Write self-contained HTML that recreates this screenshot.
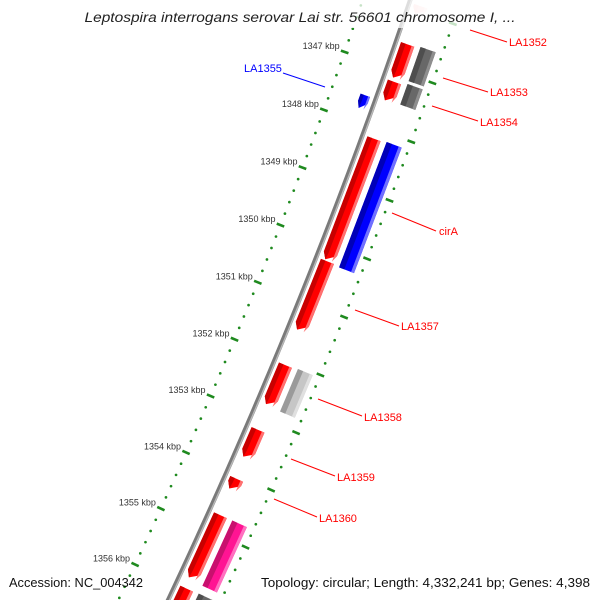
<!DOCTYPE html>
<html><head><meta charset="utf-8">
<style>
html,body{margin:0;padding:0;background:#fff;width:600px;height:600px;overflow:hidden;}
svg{display:block;font-family:"Liberation Sans",sans-serif;overflow:hidden;}
</style></head>
<body>
<svg id="map" width="600" height="600" viewBox="0 0 600 600" xmlns="http://www.w3.org/2000/svg">
<rect width="600" height="600" fill="#fff"/>
<g id="layer"></g>
<rect x="0" y="0" width="600" height="28" fill="#fff" opacity="0.75"/>
<text x="300" y="22" text-anchor="middle" font-size="14" font-style="italic" fill="#222" textLength="431" lengthAdjust="spacingAndGlyphs">Leptospira interrogans serovar Lai str. 56601 chromosome I, ...</text>
<text x="9" y="587" font-size="12.5" fill="#111" textLength="134" lengthAdjust="spacingAndGlyphs">Accession: NC_004342</text>
<text x="261" y="587" font-size="12.5" fill="#111" textLength="329" lengthAdjust="spacingAndGlyphs">Topology: circular; Length: 4,332,241 bp; Genes: 4,398</text>
</svg>
<script>
// ---- data ----
const tickKbp = [1346, 1347, 1348, 1349, 1350, 1351, 1352, 1353, 1354, 1355, 1356, 1357];
const tickLabels = ["1346 kbp","1347 kbp","1348 kbp","1349 kbp","1350 kbp","1351 kbp","1352 kbp","1353 kbp","1354 kbp","1355 kbp","1356 kbp","1357 kbp"];
// forward-strand CDS (row 1)
const fwdStart = [1345.90, 1346.55, 1347.19, 1348.16, 1350.27, 1352.07, 1353.20, 1354.06, 1354.70, 1356.00];
const fwdEnd   = [1346.05, 1347.13, 1347.52, 1350.25, 1351.47, 1352.77, 1353.69, 1354.25, 1355.82, 1356.40];
const fwdKind  = ["faint","red","red","red","red","red","red","red","red","red"];
// other features (row 2)
const row2Start = [1346.52, 1347.15, 1348.14, 1352.05, 1354.70, 1355.99];
const row2End   = [1347.10, 1347.50, 1350.29, 1352.79, 1355.85, 1356.40];
const row2Kind  = ["gray","gray","blue","lightgray","pink","gray"];
// reverse strand
const revStart = [1347.55];
const revEnd   = [1347.78];
const revKind  = ["blue"];
// labels
const labelText = ["LA1352","LA1355","LA1353","LA1354","cirA","LA1357","LA1358","LA1359","LA1360"];
const labelColor = ["red","blue","red","red","red","red","red","red","red"];

// ---- geometry (circular map axis) ----
const CX = -4927, CY = -1804.5, R = 5634;
const A0 = 19.40, DA = 0.631;
function ang(p){ return (A0 + (p - 1347) * DA) * Math.PI / 180; }
function pt(p, off){ const a = ang(p); return [CX + (R + off) * Math.cos(a), CY + (R + off) * Math.sin(a)]; }
const NS = "http://www.w3.org/2000/svg";
const layer = document.getElementById('layer');
function mk(tag, attrs){ const e = document.createElementNS(NS, tag); for (const k in attrs) e.setAttribute(k, attrs[k]); layer.appendChild(e); return e; }
function poly(points){ return points.map(q => q[0].toFixed(2) + ',' + q[1].toFixed(2)).join(' '); }

const palette = {
  red: ["#c80000", "#ff0000", "#ff7070"],
  faint: ["#ffd8d8", "#ffdede", "#ffecec"],
  gray: ["#4e4e4e", "#686868", "#8e8e8e"],
  blue: ["#0000b8", "#0000ff", "#7070ff"],
  lightgray: ["#9a9a9a", "#c6c6c6", "#e0e0e0"],
  pink: ["#c8106e", "#ff1493", "#ff70c0"]
};

// backbone
(function(){
  const pts = [];
  for (let p = 1345.6; p <= 1356.8; p += 0.1) pts.push(pt(p, 0));
  const d = 'M' + pts.map(q => q[0].toFixed(2) + ' ' + q[1].toFixed(2)).join(' L');
  let e = mk('path', {d: d, fill: 'none', stroke: '#7a7a7a', 'stroke-width': 4.5});
  
  
  const pts2 = [];
  for (let p = 1345.6; p <= 1356.8; p += 0.1) pts2.push(pt(p, 1.3));
  const d2 = 'M' + pts2.map(q => q[0].toFixed(2) + ' ' + q[1].toFixed(2)).join(' L');
  e = mk('path', {d: d2, fill: 'none', stroke: '#b8b8b8', 'stroke-width': 1.4});
  
  
})();

// rulers
const rulerOffsets = [-45, 48];
rulerOffsets.forEach((off, ri) => {
  for (let i = 0; i < tickKbp.length - 1; i++) {
    for (let j = 1; j < 5; j++) {
      const p = tickKbp[i] + j * (tickKbp[i + 1] - tickKbp[i]) / 5;
      const q = pt(p, off);
      if (q[1] < -5 || q[1] > 605) continue;
      const c = mk('circle', {cx: q[0], cy: q[1], r: 1.35, fill: '#1f8a1f'});
      
      
    }
  }
  tickKbp.forEach((k, i) => {
    const q = pt(k, off);
    if (q[1] < -5 || q[1] > 605) return;
    const a = pt(k, off - 4), b = pt(k, off + 4);
    const l = mk('line', {x1: a[0], y1: a[1], x2: b[0], y2: b[1], stroke: '#1f8a1f', 'stroke-width': 2.6});
    
    
    if (ri === 0) {
      const t = mk('text', {x: q[0] - 5, y: q[1] - 3, 'text-anchor': 'end', 'font-size': 9, fill: '#333'});
      t.textContent = tickLabels[i];
      
      
    }
  });
});

// feature drawing
function feature(s, e, o1, o2, kind, arrow, name){
  const c = palette[kind];
  const ah = 0.11;
  const w = o2 - o1;
  function outline(a, b){
    if (arrow === 'end') {
      const m = o1 + w * 0.3;
      return [pt(s, a), pt(s, b), pt(e - ah, b), pt(e, Math.min(Math.max(m, a), b)), pt(e - ah, a)];
    }
    return [pt(s, a), pt(s, b), pt(e, b), pt(e, a)];
  }
  let g = mk('polygon', {points: poly(outline(o1, o2)), fill: c[1]});
  
  
  g = mk('polygon', {points: poly(outline(o1, o1 + w * 0.35)), fill: c[0]});
  
  
  g = mk('polygon', {points: poly(outline(o2 - w * 0.2, o2)), fill: c[2]});
  
  
}
for (let i = 0; i < fwdStart.length; i++) feature(fwdStart[i], fwdEnd[i], 5, 19, fwdKind[i], 'end', 'forward-gene');
for (let i = 0; i < row2Start.length; i++) feature(row2Start[i], row2End[i], 25, 41, row2Kind[i], 'none', 'feature-bar');
for (let i = 0; i < revStart.length; i++) feature(revStart[i], revEnd[i], -16, -6, revKind[i], 'end', 'reverse-gene');

// labels with leader lines
const labelPos = [[509,46,470,30,507,42],[244,72,283,73,325,87],[490,96,443,78,488,92],[480,126,432,106,478,121],[439,235,392,213,436,231],[401,330,355,310,399,326],[364,421,318,399,362,416],[337,481,291,459,335,476],[319,522,274,499,317,517]];
labelText.forEach((txt, i) => {
  const L = labelPos[i];
  const ln = mk('line', {x1: L[2], y1: L[3], x2: L[4], y2: L[5], stroke: labelColor[i], 'stroke-width': 1});
  
  
  const t = mk('text', {x: L[0], y: L[1], 'font-size': 11, fill: labelColor[i]});
  t.textContent = txt;
  
  
});
</script>
</body></html>
